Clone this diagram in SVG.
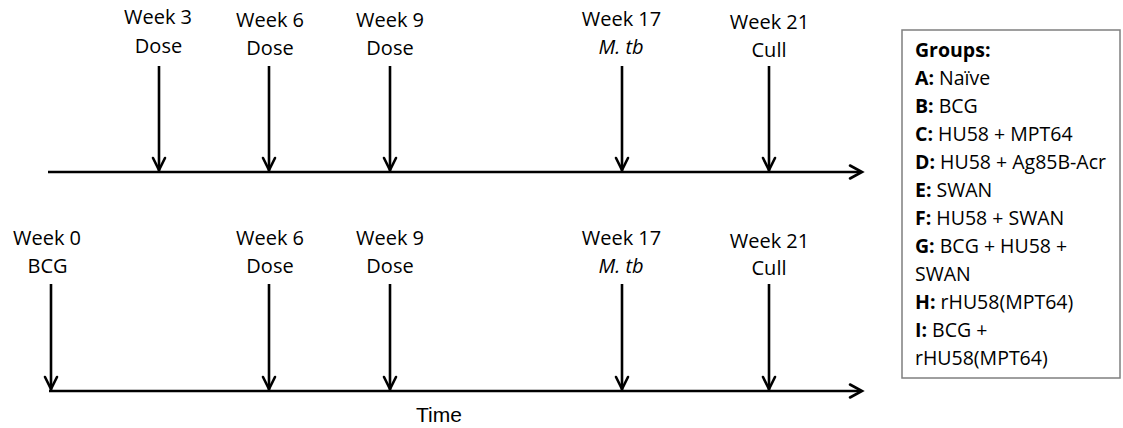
<svg xmlns="http://www.w3.org/2000/svg" width="1123" height="428" viewBox="0 0 1123 428">
<style>
.lbl{font-family:"Open Sans","Noto Sans",sans-serif;font-size:20px;fill:#000;text-anchor:middle}
.grp{font-family:"Open Sans","Noto Sans",sans-serif;font-size:19.5px;fill:#000}
.b{font-weight:bold}
.ax{stroke:#000;stroke-width:2.6;fill:none}
.head{stroke:#000;stroke-width:2.6;fill:none;stroke-linecap:round;stroke-linejoin:miter}
</style>
<rect width="1123" height="428" fill="#fff"/>
<g id="connectors">
  <!-- top axis -->
  <line class="ax" x1="48" y1="172" x2="861" y2="172"/>
  <polyline class="head" points="850,165.5 862,172 850,178.5"/>
  <!-- bottom axis -->
  <line class="ax" x1="49" y1="391" x2="861" y2="391"/>
  <polyline class="head" points="850,384.5 862,391 850,397.5"/>
  <!-- top down arrows -->
  <line class="ax" x1="159" y1="66" x2="159" y2="171"/><polyline class="head" points="153,158 159,170 165,158"/>
  <line class="ax" x1="269" y1="66" x2="269" y2="171"/><polyline class="head" points="263,158 269,170 275,158"/>
  <line class="ax" x1="390" y1="66" x2="390" y2="171"/><polyline class="head" points="384,158 390,170 396,158"/>
  <line class="ax" x1="622" y1="66" x2="622" y2="171"/><polyline class="head" points="616,158 622,170 628,158"/>
  <line class="ax" x1="769" y1="66" x2="769" y2="171"/><polyline class="head" points="763,158 769,170 775,158"/>
  <!-- bottom down arrows -->
  <line class="ax" x1="51" y1="284" x2="51" y2="390"/><polyline class="head" points="45,377 51,389 57,377"/>
  <line class="ax" x1="269" y1="284" x2="269" y2="390"/><polyline class="head" points="263,377 269,389 275,377"/>
  <line class="ax" x1="390" y1="284" x2="390" y2="390"/><polyline class="head" points="384,377 390,389 396,377"/>
  <line class="ax" x1="622" y1="284" x2="622" y2="390"/><polyline class="head" points="616,377 622,389 628,377"/>
  <line class="ax" x1="769" y1="284" x2="769" y2="390"/><polyline class="head" points="763,377 769,389 775,377"/>
</g>
<g id="top-week3"><text class="lbl" x="158" y="24">Week 3</text><text class="lbl" x="158.5" y="53">Dose</text></g>
<g id="top-week6"><text class="lbl" x="270" y="26.5">Week 6</text><text class="lbl" x="270" y="54.5">Dose</text></g>
<g id="top-week9"><text class="lbl" x="390" y="26.5">Week 9</text><text class="lbl" x="390" y="54.5">Dose</text></g>
<g id="top-week17"><text class="lbl" x="621.5" y="26">Week 17</text><text class="lbl" x="621" y="53.5" font-style="italic">M. tb</text></g>
<g id="top-week21"><text class="lbl" x="769.5" y="28.5">Week 21</text><text class="lbl" x="769" y="56.5">Cull</text></g>
<g id="bot-week0"><text class="lbl" x="47" y="245">Week 0</text><text class="lbl" x="47.5" y="273">BCG</text></g>
<g id="bot-week6"><text class="lbl" x="270" y="245">Week 6</text><text class="lbl" x="270" y="273">Dose</text></g>
<g id="bot-week9"><text class="lbl" x="390" y="245">Week 9</text><text class="lbl" x="390" y="273">Dose</text></g>
<g id="bot-week17"><text class="lbl" x="621.5" y="245">Week 17</text><text class="lbl" x="621" y="273" font-style="italic">M. tb</text></g>
<g id="bot-week21"><text class="lbl" x="769.5" y="247.5">Week 21</text><text class="lbl" x="769" y="275">Cull</text></g>
<g id="time-label"><text x="439" y="422" font-family="Liberation Sans, Arial, sans-serif" font-size="21" text-anchor="middle">Time</text></g>
<g id="groups-box">
  <rect x="902" y="30" width="218" height="348" fill="#fff" stroke="#7f7f7f" stroke-width="1.5"/>
  <text class="grp" x="915" y="57"><tspan class="b">Groups:</tspan></text>
  <text class="grp" x="915" y="85"><tspan class="b">A:</tspan> Naïve</text>
  <text class="grp" x="915" y="113"><tspan class="b">B:</tspan> BCG</text>
  <text class="grp" x="915" y="141"><tspan class="b">C:</tspan> HU58 + MPT64</text>
  <text class="grp" x="915" y="169"><tspan class="b">D:</tspan> HU58 + Ag85B-Acr</text>
  <text class="grp" x="915" y="197"><tspan class="b">E:</tspan> SWAN</text>
  <text class="grp" x="915" y="225"><tspan class="b">F:</tspan> HU58 + SWAN</text>
  <text class="grp" x="915" y="253"><tspan class="b">G:</tspan> BCG + HU58 +</text>
  <text class="grp" x="915" y="281">SWAN</text>
  <text class="grp" x="915" y="309"><tspan class="b">H:</tspan> rHU58(MPT64)</text>
  <text class="grp" x="915" y="337"><tspan class="b">I:</tspan> BCG +</text>
  <text class="grp" x="915" y="365">rHU58(MPT64)</text>
</g>
</svg>
